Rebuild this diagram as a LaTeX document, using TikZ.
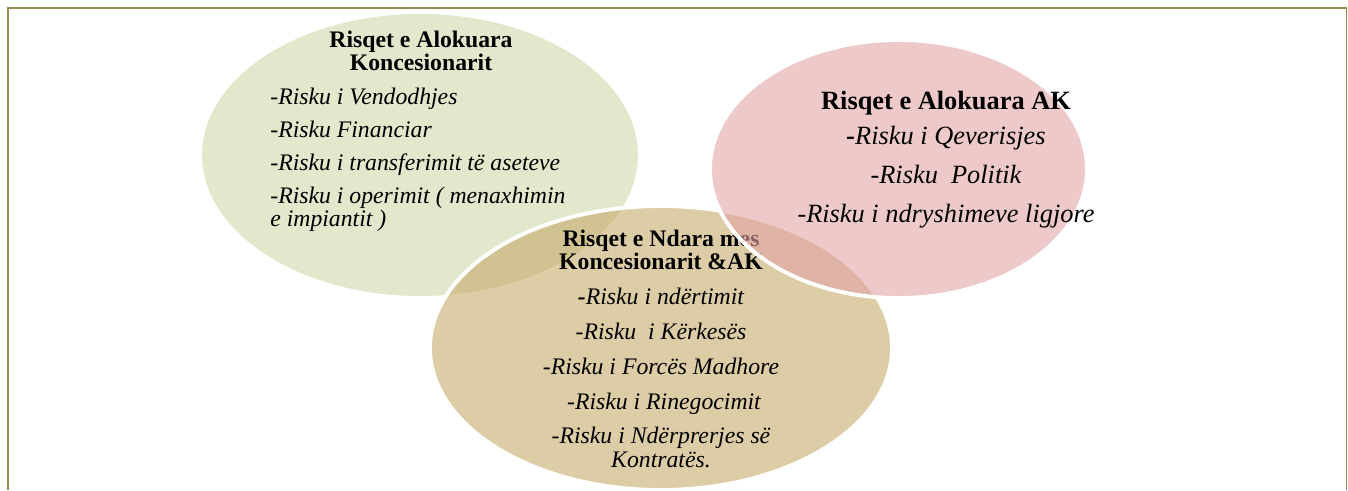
\documentclass[tikz,border=0pt]{standalone}
\usepackage{fontspec}
\setmainfont{Liberation Serif}
\usetikzlibrary{positioning}
\definecolor{CGreen}{HTML}{CDD9AA}
\definecolor{CTan}{HTML}{C6AC6B}
\definecolor{CRose}{HTML}{E3A5A5}
\definecolor{CFrame}{HTML}{948A54}

\begin{document}
\begin{tikzpicture}[
    blob/.style={fill opacity=0.6, draw=white, line width=2.2pt},
    head/.style={font=\fontsize{13.5}{13}\selectfont\bfseries, align=center, inner sep=0pt},
    items/.style={font=\fontsize{13.5}{13.5}\selectfont\itshape, inner sep=0pt}
]
    \useasboundingbox (0,0) rectangle (26.96,9.8);

    % --- Frame ---
    \draw[CFrame, line width=1.1pt] (0.156,0) -- (0.156,9.64) -- (26.93,9.64) -- (26.93,0);

    % --- Concessionaire ---
    \filldraw[blob, fill=CGreen] (8.4,6.7) ellipse (4.4 and 2.86);
    \node[head] (greenhead) at (8.42,8.78) {Risqet e Alokuara\\Koncesionarit};
    \node[items, align=left, anchor=west] (greenlist) at (5.4,6.6)
        {-Risku i Vendodhjes\\[5.2pt]
         -Risku Financiar\\[5.2pt]
         -Risku i transferimit të aseteve\\[5.2pt]
         -Risku i operimit ( menaxhimin\\
         e impiantit )};

    % --- Shared ---
    \filldraw[blob, fill=CTan] (13.22,2.84) ellipse (4.62 and 2.84);
    \node[head] (tanhead) at (13.22,4.8) {Risqet e Ndara mes\\Koncesionarit \&AK};
    \node[items, align=center] (tanlist) at (13.22,2.24)
        {\textbf{-}Risku i ndërtimit\\[6.3pt]
         -Risku\ \ i Kërkesës\\[6.3pt]
         -Risku i Forcës Madhore\\[6.3pt]
         \ -Risku i Rinegocimit\\[6.3pt]
         -Risku i Ndërprerjes së\\
         Kontratës.};

    % --- Authority ---
    \filldraw[blob, fill=CRose] (17.97,6.42) ellipse (3.77 and 2.58);
    \node[head, font=\fontsize{15}{15}\selectfont\bfseries] (rosehead) at (18.92,7.74) {Risqet e Alokuara AK};
    \node[items, align=center, font=\fontsize{15}{15}\selectfont\itshape] (roselist) at (18.92,6.25)
        {\textbf{-}Risku i Qeverisjes\\[7.2pt]
         -Risku\ \ Politik\\[7.2pt]
         -Risku i ndryshimeve ligjore};
\end{tikzpicture}
\end{document}
